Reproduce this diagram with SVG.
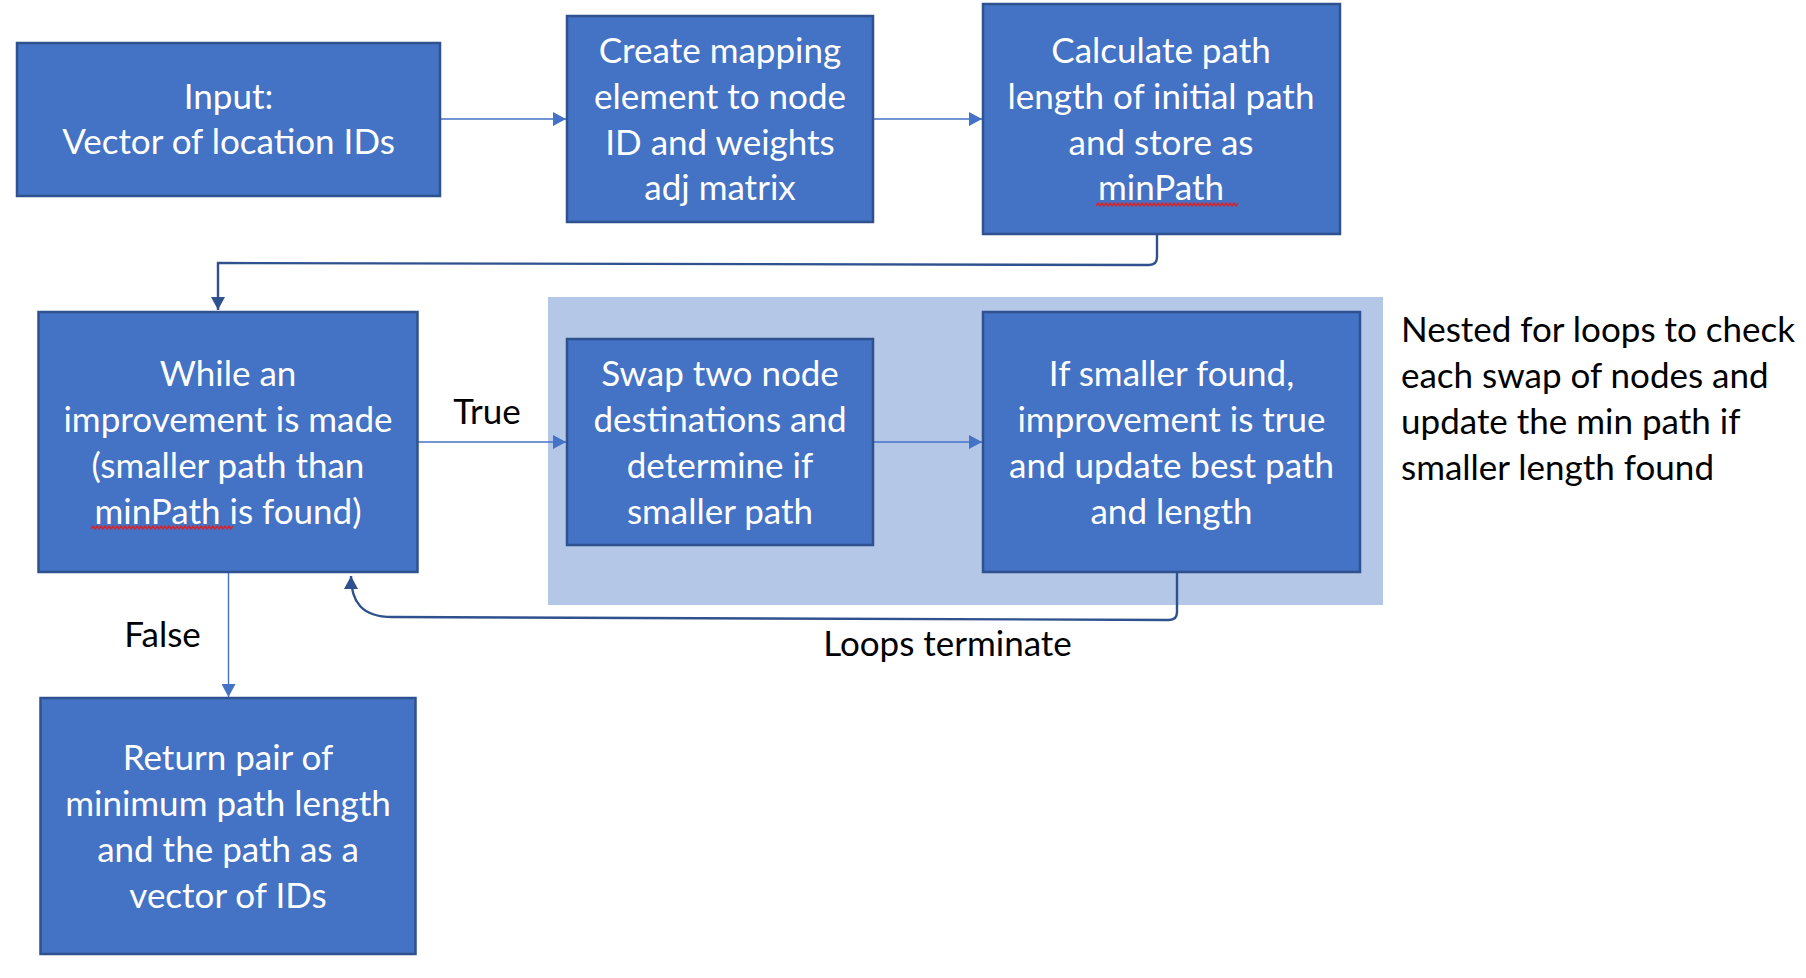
<svg xmlns="http://www.w3.org/2000/svg" width="1806" height="978" viewBox="0 0 1806 978">
<style>
.box{fill:#4472C4;stroke:#2F528F;stroke-width:2.5}
.t{font-family:Lato,"Liberation Sans",sans-serif;font-size:35px;fill:#FFFFFF;text-anchor:middle}
.k{font-family:Lato,"Liberation Sans",sans-serif;font-size:35px;fill:#000000}
.ln{fill:none;stroke:#4472C4;stroke-width:1.4}
.el{fill:none;stroke:#2F528F;stroke-width:2.4}
.sq{fill:none;stroke:#E02020;stroke-width:1.3}
</style>
<defs>
<marker id="a1" markerUnits="userSpaceOnUse" markerWidth="14" markerHeight="14" refX="13" refY="7" orient="auto">
<path d="M0,0 L13,7 L0,14 Z" fill="#4472C4"/>
</marker>
<marker id="a2" markerUnits="userSpaceOnUse" markerWidth="14" markerHeight="14" refX="13" refY="7" orient="auto">
<path d="M0,0 L13,7 L0,14 Z" fill="#2F528F"/>
</marker>
</defs>
<rect x="0" y="0" width="1806" height="978" fill="#FFFFFF"/>
<rect id="loop-group" x="548" y="297" width="835" height="308" fill="#B4C7E7"/>
<g id="connectors">
<path class="ln" d="M440,119 L566,119" marker-end="url(#a1)"/>
<path class="ln" d="M873,119 L982,119" marker-end="url(#a1)"/>
<path class="el" d="M1157,235 V257 Q1157,265 1149,265 L218,263 V310" marker-end="url(#a2)"/>
<path class="ln" d="M417,442 L566,442" marker-end="url(#a1)"/>
<path class="ln" d="M873,442 L982,442" marker-end="url(#a1)"/>
<path class="ln" d="M228.5,573 L228.5,697" marker-end="url(#a1)"/>
<path class="el" d="M1177,573 V612 Q1177,620 1169,620 L392,617 C362,617 351,602 351,576" marker-end="url(#a2)"/>
</g>
<g id="input">
<rect class="box" x="17" y="43" width="423" height="153"/>
<text class="t" x="228.5" y="109">Input:</text>
<text class="t" x="228.5" y="154">Vector of location IDs</text>
</g>
<g id="mapping">
<rect class="box" x="567" y="16" width="306" height="206"/>
<text class="t" x="720" y="63">Create mapping</text>
<text class="t" x="720" y="109">element to node</text>
<text class="t" x="720" y="155">ID and weights</text>
<text class="t" x="720" y="200">adj matrix</text>
</g>
<g id="calculate">
<rect class="box" x="983" y="4" width="357" height="230"/>
<text class="t" x="1161" y="63">Calculate path</text>
<text class="t" x="1161" y="109">length of initial path</text>
<text class="t" x="1161" y="155">and store as</text>
<text class="t" x="1161" y="200">minPath</text>
<path class="sq" d="M1096,206 l2,-3 l2,3 l2,-3 l2,3 l2,-3 l2,3 l2,-3 l2,3 l2,-3 l2,3 l2,-3 l2,3 l2,-3 l2,3 l2,-3 l2,3 l2,-3 l2,3 l2,-3 l2,3 l2,-3 l2,3 l2,-3 l2,3 l2,-3 l2,3 l2,-3 l2,3 l2,-3 l2,3 l2,-3 l2,3 l2,-3 l2,3 l2,-3 l2,3 l2,-3 l2,3 l2,-3 l2,3 l2,-3 l2,3 l2,-3 l2,3 l2,-3 l2,3 l2,-3 l2,3 l2,-3 l2,3 l2,-3 l2,3 l2,-3 l2,3 l2,-3 l2,3 l2,-3 l2,3 l2,-3 l2,3 l2,-3 l2,3 l2,-3 l2,3 l2,-3 l2,3 l2,-3 l2,3 l2,-3 l2,3 l2,-3"/>
</g>
<g id="while">
<rect class="box" x="38.5" y="312" width="379" height="260"/>
<text class="t" x="228" y="386">While an</text>
<text class="t" x="228" y="432">improvement is made</text>
<text class="t" x="228" y="478">(smaller path than</text>
<text class="t" x="228" y="524">minPath is found)</text>
<path class="sq" d="M91,529 l2,-3 l2,3 l2,-3 l2,3 l2,-3 l2,3 l2,-3 l2,3 l2,-3 l2,3 l2,-3 l2,3 l2,-3 l2,3 l2,-3 l2,3 l2,-3 l2,3 l2,-3 l2,3 l2,-3 l2,3 l2,-3 l2,3 l2,-3 l2,3 l2,-3 l2,3 l2,-3 l2,3 l2,-3 l2,3 l2,-3 l2,3 l2,-3 l2,3 l2,-3 l2,3 l2,-3 l2,3 l2,-3 l2,3 l2,-3 l2,3 l2,-3 l2,3 l2,-3 l2,3 l2,-3 l2,3 l2,-3 l2,3 l2,-3 l2,3 l2,-3 l2,3 l2,-3 l2,3 l2,-3 l2,3 l2,-3 l2,3 l2,-3 l2,3 l2,-3 l2,3 l2,-3 l2,3 l2,-3 l2,3 l2,-3"/>
</g>
<g id="swap">
<rect class="box" x="567" y="339" width="306" height="206"/>
<text class="t" x="720" y="386">Swap two node</text>
<text class="t" x="720" y="432">destinations and</text>
<text class="t" x="720" y="478">determine if</text>
<text class="t" x="720" y="524">smaller path</text>
</g>
<g id="update">
<rect class="box" x="983" y="312" width="377" height="260"/>
<text class="t" x="1171.5" y="386">If smaller found,</text>
<text class="t" x="1171.5" y="432">improvement is true</text>
<text class="t" x="1171.5" y="478">and update best path</text>
<text class="t" x="1171.5" y="524">and length</text>
</g>
<g id="return">
<rect class="box" x="40.5" y="698" width="375" height="256"/>
<text class="t" x="228" y="770">Return pair of</text>
<text class="t" x="228" y="816">minimum path length</text>
<text class="t" x="228" y="862">and the path as a</text>
<text class="t" x="228" y="908">vector of IDs</text>
</g>
<g id="labels">
<text class="k" x="487" y="424" text-anchor="middle">True</text>
<text class="k" x="162.5" y="647" text-anchor="middle">False</text>
<text class="k" x="947.5" y="656" text-anchor="middle">Loops terminate</text>
</g>
<g id="note">
<text class="k" x="1401" y="342">Nested for loops to check</text>
<text class="k" x="1401" y="388">each swap of nodes and</text>
<text class="k" x="1401" y="434">update the min path if</text>
<text class="k" x="1401" y="480">smaller length found</text>
</g>
</svg>
